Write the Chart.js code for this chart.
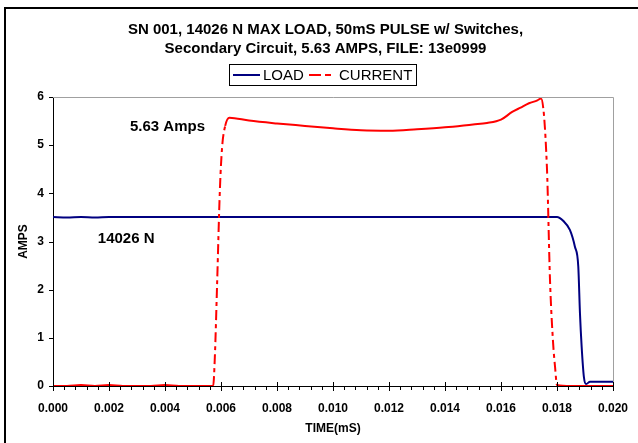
<!DOCTYPE html>
<html>
<head>
<meta charset="utf-8">
<script src="https://cdn.jsdelivr.net/npm/chart.js@4.4.1/dist/chart.umd.min.js"></script>
<style>
  html, body { margin: 0; padding: 0; background: #fff; }
  canvas { display: block; }
</style>
</head>
<body>
<canvas id="ampsChart" width="638" height="443"></canvas>
<script>
// LOAD trace (blue)
const loadTime = [0, 0.0005, 0.001, 0.0015, 0.002, 0.004, 0.006, 0.008, 0.010, 0.012, 0.014, 0.016, 0.0175,
  0.0180, 0.01822, 0.01846, 0.01864, 0.01876, 0.01882, 0.01888, 0.01896, 0.01904, 0.01918, 0.01954, 0.020];
const loadAmps = [3.51, 3.50, 3.51, 3.50, 3.51, 3.51, 3.51, 3.51, 3.51, 3.51, 3.51, 3.51, 3.51,
  3.51, 3.43, 3.24, 2.89, 2.48, 1.51, 0.82, 0.19, 0.04, 0.09, 0.09, 0.09];

// CURRENT trace (red)
const curTime = [0, 0.0005, 0.001, 0.0015, 0.002, 0.0025, 0.003, 0.0035, 0.004, 0.0045, 0.005, 0.0055,
  0.00572, 0.00578, 0.00586, 0.00596, 0.00604, 0.00615, 0.0063,
  0.0070, 0.0080, 0.0090, 0.0100, 0.0110, 0.0120, 0.0130, 0.0140, 0.0150, 0.0155, 0.0160,
  0.0164, 0.0167, 0.0170, 0.0173, 0.01743,
  0.01764, 0.01775, 0.01786, 0.01793, 0.0180, 0.0185, 0.0190, 0.0195, 0.020];
const curAmps = [0, 0, 0.02, 0, 0.02, 0, 0, 0, 0.02, 0, 0, 0,
  0, 0.6, 2.1, 4.07, 4.96, 5.4, 5.57,
  5.51, 5.45, 5.40, 5.35, 5.31, 5.30, 5.33, 5.37, 5.43, 5.46, 5.53,
  5.69, 5.78, 5.87, 5.93, 5.97,
  4.54, 2.2, 0.9, 0.4, 0.02, 0, 0, 0, 0];

const xTickLabels = ["0.000", "0.002", "0.004", "0.006", "0.008", "0.010",
  "0.012", "0.014", "0.016", "0.018", "0.020"];
const yTickLabels = ["0", "1", "2", "3", "4", "5", "6"];

const titleLines = ["SN 001, 14026 N MAX LOAD, 50mS PULSE w/ Switches,",
  "Secondary Circuit, 5.63 AMPS, FILE: 13e0999"];
const seriesNames = ["LOAD", "CURRENT"];
const seriesColors = ["#000080", "#ff0000"];
const notes = [
  { text: "5.63 Amps", x: 0.00275, y: 5.39 },
  { text: "14026 N", x: 0.0016, y: 3.05 }
];

const FONT = "'Liberation Sans', Arial, sans-serif";
const DASH = [10, 4, 4, 4];

function toPoints(xs, ys) {
  return xs.map((x, i) => ({ x: x, y: ys[i] }));
}

// frame, plot border, ticks, title, legend and text notes
const decor = {
  id: 'decor',
  beforeDraw(chart) {
    const ctx = chart.ctx;
    ctx.save();
    ctx.fillStyle = '#fff';
    ctx.fillRect(0, 0, chart.width, chart.height);
    ctx.strokeStyle = '#000';
    ctx.lineWidth = 2;
    ctx.strokeRect(5, 8, 800, 600);
    ctx.restore();
  },
  afterDraw(chart) {
    const ctx = chart.ctx;
    const a = chart.chartArea;
    const xs = chart.scales.x, ys = chart.scales.y;
    ctx.save();

    // gray plot border top/right
    ctx.strokeStyle = '#a0a0a0';
    ctx.lineWidth = 1;
    ctx.beginPath();
    ctx.moveTo(a.left, a.top + 0.5);
    ctx.lineTo(a.right + 0.5, a.top + 0.5);
    ctx.lineTo(a.right + 0.5, a.bottom);
    ctx.stroke();

    // axis ticks
    ctx.strokeStyle = '#000';
    ctx.beginPath();
    for (let i = 0; i <= 50; i++) {
      const px = Math.round(xs.getPixelForValue(i * 0.0004)) + 0.5;
      if (i % 5 === 0) {
        ctx.moveTo(px, a.bottom - 4);
        ctx.lineTo(px, a.bottom + 5);
      } else {
        ctx.moveTo(px, a.bottom);
        ctx.lineTo(px, a.bottom + 4);
      }
    }
    for (let v = 0; v <= 6; v++) {
      const py = Math.round(ys.getPixelForValue(v)) + 0.5;
      ctx.moveTo(a.left - 4, py);
      ctx.lineTo(a.left, py);
    }
    ctx.stroke();

    // title
    ctx.fillStyle = '#000';
    ctx.textAlign = 'center';
    ctx.textBaseline = 'middle';
    ctx.font = 'bold 15px ' + FONT;
    ctx.fillText(titleLines[0], 325.5, 30);
    ctx.fillText(titleLines[1], 325.5, 48.5);

    // legend
    ctx.strokeStyle = '#000';
    ctx.lineWidth = 1;
    ctx.strokeRect(229.5, 64.5, 187, 21);
    ctx.lineWidth = 2;
    ctx.strokeStyle = seriesColors[0];
    ctx.beginPath();
    ctx.moveTo(233, 75);
    ctx.lineTo(260, 75);
    ctx.stroke();
    ctx.strokeStyle = seriesColors[1];
    ctx.setLineDash([12, 4, 6, 4]);
    ctx.beginPath();
    ctx.moveTo(309, 75);
    ctx.lineTo(332, 75);
    ctx.stroke();
    ctx.setLineDash([]);
    ctx.font = '15px ' + FONT;
    ctx.textAlign = 'left';
    ctx.fillText(seriesNames[0], 263, 75.5);
    ctx.fillText(seriesNames[1], 339, 75.5);

    // notes
    ctx.font = 'bold 15px ' + FONT;
    notes.forEach(n => {
      ctx.fillText(n.text, xs.getPixelForValue(n.x), ys.getPixelForValue(n.y));
    });
    ctx.restore();
  }
};

new Chart(document.getElementById('ampsChart'), {
  type: 'line',
  data: {
    datasets: [{
      label: seriesNames[0],
      data: toPoints(loadTime, loadAmps),
      borderColor: seriesColors[0],
      borderWidth: 2,
      pointRadius: 0,
      cubicInterpolationMode: 'monotone',
      order: 2
    }, {
      label: seriesNames[1],
      data: toPoints(curTime, curAmps),
      borderColor: seriesColors[1],
      borderWidth: 2,
      pointRadius: 0,
      cubicInterpolationMode: 'monotone',
      order: 1,
      segment: {
        borderDash: c => Math.abs(c.p1.parsed.y - c.p0.parsed.y) > 0.3 ? DASH : undefined
      }
    }]
  },
  options: {
    responsive: false,
    animation: false,
    devicePixelRatio: 1,
    layout: { padding: { top: 97, right: 25, left: 0, bottom: 0 } },
    plugins: {
      legend: { display: false },
      title: { display: false },
      tooltip: { enabled: false }
    },
    scales: {
      x: {
        type: 'linear',
        min: 0,
        max: 0.02,
        afterFit: s => { s.height = 57; s.paddingLeft = 0; s.paddingRight = 0; },
        grid: { display: false, drawTicks: false },
        border: { color: '#000', width: 1 },
        ticks: {
          stepSize: 0.002,
          padding: 15,
          color: '#000',
          font: { family: FONT, size: 12, weight: 'bold' },
          callback: (v, i) => xTickLabels[i]
        },
        title: {
          display: true,
          text: 'TIME(mS)',
          color: '#000',
          padding: { top: 4, bottom: 7 },
          font: { family: FONT, size: 12, weight: 'bold' }
        }
      },
      y: {
        min: 0,
        max: 6,
        afterFit: s => { s.width = 53; },
        grid: { display: false, drawTicks: false },
        border: { color: '#000', width: 1 },
        ticks: {
          stepSize: 1,
          padding: 9,
          color: '#000',
          font: { family: FONT, size: 12, weight: 'bold' },
          callback: (v, i) => yTickLabels[i]
        },
        title: {
          display: true,
          text: 'AMPS',
          color: '#000',
          padding: { top: 16, bottom: 4 },
          font: { family: FONT, size: 12, weight: 'bold' }
        }
      }
    }
  },
  plugins: [decor]
});
</script>
</body>
</html>
